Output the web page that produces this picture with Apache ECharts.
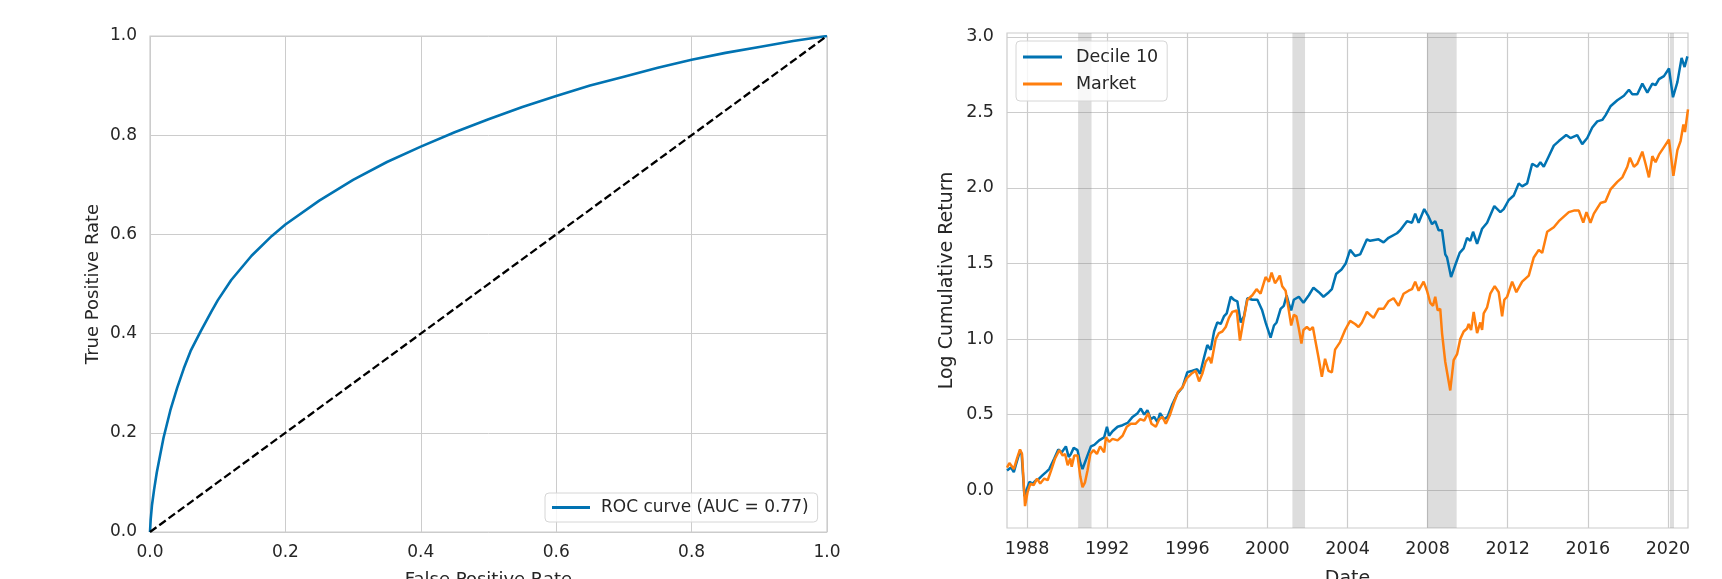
<!DOCTYPE html>
<html>
<head>
<meta charset="utf-8">
<script src="https://cdn.jsdelivr.net/npm/echarts@6/dist/echarts.min.js"></script>
<style>html,body{margin:0;padding:0;background:#fff;}#chart{width:1722px;height:579px;}</style>
</head>
<body>
<div id="chart"></div>
<script>
// ROC curve (left panel)
const rocFpr = [0, 0.001, 0.003, 0.006, 0.01, 0.015, 0.02, 0.03, 0.04, 0.05, 0.06, 0.075, 0.09, 0.1, 0.12, 0.15, 0.18, 0.2, 0.25, 0.3, 0.35, 0.4, 0.45, 0.5, 0.55, 0.6, 0.65, 0.7, 0.75, 0.8, 0.85, 0.9, 0.95, 1.0];
const rocTpr = [0, 0.025, 0.055, 0.085, 0.12, 0.155, 0.19, 0.245, 0.29, 0.33, 0.365, 0.405, 0.443, 0.467, 0.508, 0.557, 0.597, 0.62, 0.668, 0.71, 0.746, 0.777, 0.806, 0.832, 0.857, 0.879, 0.9, 0.918, 0.936, 0.952, 0.966, 0.978, 0.99, 1.0];
const chanceX = [0, 1];
const chanceY = [0, 1];

// Cumulative returns (right panel)
const decileYears = [1987.0,1987.09,1987.2,1987.34,1987.45,1987.65,1987.73,1987.87,1988.0,1988.12,1988.28,1988.45,1988.6,1988.78,1988.95,1989.11,1989.36,1989.56,1989.73,1989.94,1990.08,1990.19,1990.33,1990.52,1990.66,1990.77,1991.02,1991.19,1991.36,1991.6,1991.85,1991.99,1992.1,1992.27,1992.52,1992.77,1993.02,1993.27,1993.52,1993.68,1993.85,1994.01,1994.18,1994.35,1994.51,1994.64,1994.84,1995.01,1995.26,1995.51,1995.76,1996.0,1996.26,1996.5,1996.64,1996.84,1997.0,1997.17,1997.34,1997.5,1997.67,1997.83,1997.97,1998.17,1998.33,1998.5,1998.67,1998.83,1999.0,1999.25,1999.5,1999.74,1999.91,2000.16,2000.33,2000.46,2000.66,2000.82,2000.96,2001.07,2001.19,2001.32,2001.57,2001.8,2002.07,2002.3,2002.57,2002.8,2003.07,2003.22,2003.43,2003.7,2003.91,2004.13,2004.38,2004.63,2004.97,2005.13,2005.55,2005.8,2006.05,2006.47,2006.63,2006.97,2007.22,2007.38,2007.55,2007.83,2008.05,2008.22,2008.38,2008.55,2008.72,2008.88,2008.97,2009.17,2009.38,2009.6,2009.8,2009.97,2010.13,2010.27,2010.47,2010.72,2010.97,2011.33,2011.63,2011.8,2012.05,2012.3,2012.55,2012.72,2012.97,2013.22,2013.47,2013.63,2013.8,2014.05,2014.3,2014.55,2014.92,2015.13,2015.47,2015.72,2015.97,2016.22,2016.47,2016.72,2016.88,2017.13,2017.47,2017.8,2018.05,2018.22,2018.47,2018.72,2018.97,2019.22,2019.38,2019.55,2019.8,2020.05,2020.25,2020.47,2020.68,2020.83,2020.97];
const decileReturns = [0.13,0.12,0.15,0.12,0.17,0.26,0.24,-0.04,0.01,0.055,0.044,0.066,0.077,0.10,0.12,0.14,0.21,0.27,0.25,0.29,0.22,0.24,0.28,0.265,0.18,0.14,0.23,0.29,0.30,0.33,0.35,0.42,0.36,0.39,0.42,0.43,0.445,0.485,0.51,0.54,0.50,0.53,0.47,0.485,0.45,0.51,0.47,0.485,0.57,0.64,0.68,0.78,0.79,0.80,0.77,0.88,0.96,0.93,1.05,1.11,1.10,1.15,1.17,1.28,1.26,1.25,1.11,1.15,1.27,1.26,1.26,1.19,1.11,1.01,1.09,1.11,1.20,1.22,1.29,1.235,1.19,1.26,1.28,1.24,1.29,1.34,1.31,1.28,1.31,1.33,1.43,1.46,1.50,1.59,1.55,1.56,1.66,1.65,1.66,1.64,1.67,1.70,1.72,1.78,1.77,1.83,1.77,1.86,1.81,1.76,1.78,1.72,1.72,1.56,1.54,1.41,1.49,1.57,1.60,1.67,1.65,1.71,1.63,1.73,1.77,1.88,1.84,1.86,1.92,1.95,2.03,2.01,2.03,2.16,2.14,2.17,2.14,2.21,2.28,2.31,2.35,2.33,2.35,2.29,2.33,2.40,2.44,2.45,2.48,2.54,2.58,2.61,2.65,2.62,2.62,2.69,2.63,2.69,2.68,2.72,2.74,2.79,2.60,2.70,2.86,2.80,2.87];
const marketYears = [1987.0,1987.12,1987.34,1987.5,1987.65,1987.75,1987.9,1988.03,1988.17,1988.33,1988.5,1988.66,1988.86,1989.03,1989.2,1989.4,1989.61,1989.78,1989.9,1990.03,1990.16,1990.23,1990.36,1990.52,1990.66,1990.77,1990.89,1991.02,1991.16,1991.32,1991.49,1991.65,1991.85,1991.94,1992.1,1992.27,1992.52,1992.77,1992.98,1993.18,1993.43,1993.65,1993.85,1994.05,1994.21,1994.43,1994.6,1994.76,1994.93,1995.14,1995.34,1995.54,1995.76,1995.97,1996.2,1996.42,1996.59,1996.75,1996.92,1997.09,1997.2,1997.42,1997.58,1997.75,1997.92,1998.08,1998.25,1998.47,1998.63,1998.8,1999.0,1999.25,1999.46,1999.66,1999.91,2000.08,2000.21,2000.38,2000.49,2000.62,2000.74,2000.91,2001.07,2001.19,2001.32,2001.45,2001.57,2001.7,2001.8,2001.97,2002.13,2002.27,2002.38,2002.55,2002.72,2002.88,2003.05,2003.22,2003.38,2003.63,2003.88,2004.13,2004.38,2004.55,2004.72,2004.97,2005.13,2005.3,2005.55,2005.8,2006.05,2006.3,2006.55,2006.8,2007.05,2007.22,2007.38,2007.55,2007.8,2007.97,2008.13,2008.27,2008.38,2008.5,2008.63,2008.72,2008.88,2008.97,2009.13,2009.3,2009.47,2009.63,2009.8,2009.97,2010.05,2010.17,2010.3,2010.47,2010.63,2010.72,2010.8,2010.97,2011.13,2011.35,2011.55,2011.72,2011.83,2011.97,2012.22,2012.43,2012.72,2013.05,2013.3,2013.55,2013.72,2013.97,2014.3,2014.55,2014.8,2015.05,2015.3,2015.55,2015.77,2015.93,2016.13,2016.3,2016.63,2016.88,2017.13,2017.47,2017.72,2017.97,2018.1,2018.3,2018.47,2018.72,2018.88,2019.05,2019.22,2019.38,2019.55,2019.8,2020.05,2020.27,2020.47,2020.63,2020.77,2020.85,2021.0];
const marketReturns = [0.15,0.18,0.14,0.21,0.27,0.24,-0.105,-0.01,0.044,0.033,0.077,0.044,0.077,0.066,0.13,0.21,0.265,0.23,0.24,0.165,0.21,0.155,0.23,0.23,0.09,0.02,0.05,0.13,0.24,0.265,0.24,0.29,0.25,0.35,0.32,0.34,0.33,0.36,0.42,0.44,0.44,0.47,0.46,0.51,0.44,0.42,0.47,0.485,0.44,0.50,0.58,0.65,0.68,0.74,0.77,0.79,0.72,0.77,0.85,0.88,0.84,1.0,1.04,1.05,1.08,1.14,1.18,1.19,0.99,1.12,1.26,1.29,1.33,1.30,1.41,1.38,1.44,1.37,1.39,1.42,1.35,1.32,1.19,1.09,1.16,1.15,1.07,0.97,1.06,1.08,1.06,1.08,1.0,0.88,0.75,0.87,0.79,0.78,0.93,0.98,1.06,1.12,1.10,1.08,1.11,1.18,1.16,1.14,1.20,1.20,1.25,1.27,1.22,1.30,1.32,1.33,1.38,1.32,1.38,1.32,1.24,1.22,1.28,1.19,1.20,1.04,0.85,0.84,0.66,0.86,0.90,1.0,1.05,1.07,1.10,1.06,1.18,1.04,1.11,1.06,1.17,1.21,1.30,1.35,1.31,1.15,1.26,1.28,1.38,1.31,1.38,1.42,1.54,1.59,1.57,1.71,1.74,1.78,1.81,1.84,1.85,1.85,1.77,1.84,1.77,1.83,1.90,1.91,1.99,2.04,2.07,2.14,2.20,2.14,2.16,2.24,2.16,2.07,2.21,2.17,2.22,2.27,2.32,2.08,2.25,2.31,2.42,2.37,2.52];
const recessionStarts = [1990.55, 2001.25, 2007.97, 2020.1];
const recessionEnds = [1991.22, 2001.88, 2009.45, 2020.3];
const yearTicks = [1988, 1992, 1996, 2000, 2004, 2008, 2012, 2016, 2020];
const returnTicks = [0.0, 0.5, 1.0, 1.5, 2.0, 2.5, 3.0];

const FONT = 'DejaVu Sans';
const TXT = '#262626';
const GRID = '#cccccc';
const BLUE = '#0173b2';
const ORANGE = '#ff7f0e';

const zip = (xs, ys) => xs.map((x, i) => [x, ys[i]]);
const labelStyle = (size) => ({ color: TXT, fontFamily: FONT, fontSize: size });

const option = {
  animation: false,
  backgroundColor: '#ffffff',
  grid: [
    { left: 150, top: 36, width: 677, height: 496, show: true, borderColor: GRID, borderWidth: 1.2, backgroundColor: 'transparent', outerBoundsMode: 'none', containLabel: false },
    { left: 1007, top: 33, width: 681, height: 495, show: true, borderColor: GRID, borderWidth: 1.2, backgroundColor: 'transparent', outerBoundsMode: 'none', containLabel: false }
  ],
  xAxis: [
    {
      type: 'value', gridIndex: 0, min: 0, max: 1, interval: 0.2,
      axisLine: { show: false }, axisTick: { show: false },
      axisLabel: Object.assign(labelStyle(17), { margin: 12, formatter: v => v.toFixed(1) }),
      splitLine: { show: true, lineStyle: { color: GRID, width: 1 } },
      name: 'False Positive Rate', nameLocation: 'middle', nameGap: 39,
      nameTextStyle: labelStyle(18)
    },
    {
      type: 'value', gridIndex: 1, min: 1987, max: 2021, interval: 1,
      axisLine: { show: false }, axisTick: { show: false },
      axisLabel: Object.assign(labelStyle(17.5), { margin: 12, formatter: v => yearTicks.includes(Math.round(v)) && Math.abs(v - Math.round(v)) < 1e-6 ? String(Math.round(v)) : '' }),
      splitLine: { show: true, lineStyle: { color: ['transparent', GRID, 'transparent', 'transparent'], width: 1.2 } },
      name: 'Date', nameLocation: 'middle', nameGap: 42,
      nameTextStyle: labelStyle(19)
    }
  ],
  yAxis: [
    {
      type: 'value', gridIndex: 0, min: 0, max: 1, interval: 0.2,
      axisLine: { show: false }, axisTick: { show: false },
      axisLabel: Object.assign(labelStyle(17), { margin: 13, formatter: v => v.toFixed(1) }),
      splitLine: { show: true, lineStyle: { color: GRID, width: 1 } },
      name: 'True Positive Rate', nameLocation: 'middle', nameGap: 48,
      nameTextStyle: labelStyle(18)
    },
    {
      type: 'value', gridIndex: 1, min: -0.25, max: 3.025, interval: 0.25,
      axisLine: { show: false }, axisTick: { show: false },
      axisLabel: Object.assign(labelStyle(17.5), { margin: 13, formatter: v => returnTicks.some(t => Math.abs(t - v) < 1e-6) ? v.toFixed(1) : '' }),
      splitLine: { show: true, lineStyle: { color: ['transparent', GRID], width: 1.2 } },
      name: 'Log Cumulative Return', nameLocation: 'middle', nameGap: 50,
      nameTextStyle: labelStyle(19)
    }
  ],
  legend: [
    {
      data: ['ROC curve (AUC = 0.77)'],
      left: 545, top: 493, orient: 'vertical',
      padding: [6, 9, 6, 7],
      icon: 'rect', itemWidth: 38, itemHeight: 3,
      backgroundColor: 'rgba(255,255,255,0.8)', borderColor: '#d6d6d6', borderWidth: 1, borderRadius: 4,
      textStyle: Object.assign(labelStyle(17), { padding: [0, 0, 0, 6] })
    },
    {
      data: ['Decile 10', 'Market'],
      left: 1016, top: 41, orient: 'vertical', itemGap: 9,
      padding: [7, 9, 8, 7],
      icon: 'rect', itemWidth: 39, itemHeight: 3,
      backgroundColor: 'rgba(255,255,255,0.8)', borderColor: '#d6d6d6', borderWidth: 1, borderRadius: 4,
      textStyle: Object.assign(labelStyle(17.5), { padding: [0, 0, 0, 9] })
    }
  ],
  series: [
    {
      name: 'ROC curve (AUC = 0.77)', type: 'line', xAxisIndex: 0, yAxisIndex: 0,
      data: zip(rocFpr, rocTpr), showSymbol: false, symbol: 'none', smooth: false,
      color: BLUE, lineStyle: { color: BLUE, width: 2.6 }, z: 3
    },
    {
      name: 'Chance', type: 'line', xAxisIndex: 0, yAxisIndex: 0,
      data: zip(chanceX, chanceY), showSymbol: false, symbol: 'none',
      color: '#000', lineStyle: { color: '#000', width: 2.3, type: [8, 3.5] }, z: 4
    },
    {
      name: 'Decile 10', type: 'line', xAxisIndex: 1, yAxisIndex: 1,
      data: zip(decileYears, decileReturns), showSymbol: false, symbol: 'none',
      color: BLUE, lineStyle: { color: BLUE, width: 2.5 }, z: 3,
      markArea: {
        silent: true,
        itemStyle: { color: 'rgba(128,128,128,0.27)' },
        data: recessionStarts.map((s, i) => [{ xAxis: s }, { xAxis: recessionEnds[i] }])
      }
    },
    {
      name: 'Market', type: 'line', xAxisIndex: 1, yAxisIndex: 1,
      data: zip(marketYears, marketReturns), showSymbol: false, symbol: 'none',
      color: ORANGE, lineStyle: { color: ORANGE, width: 2.5 }, z: 3
    }
  ]
};

const chart = echarts.init(document.getElementById('chart'), null, { renderer: 'canvas' });
chart.setOption(option);
</script>
</body>
</html>
